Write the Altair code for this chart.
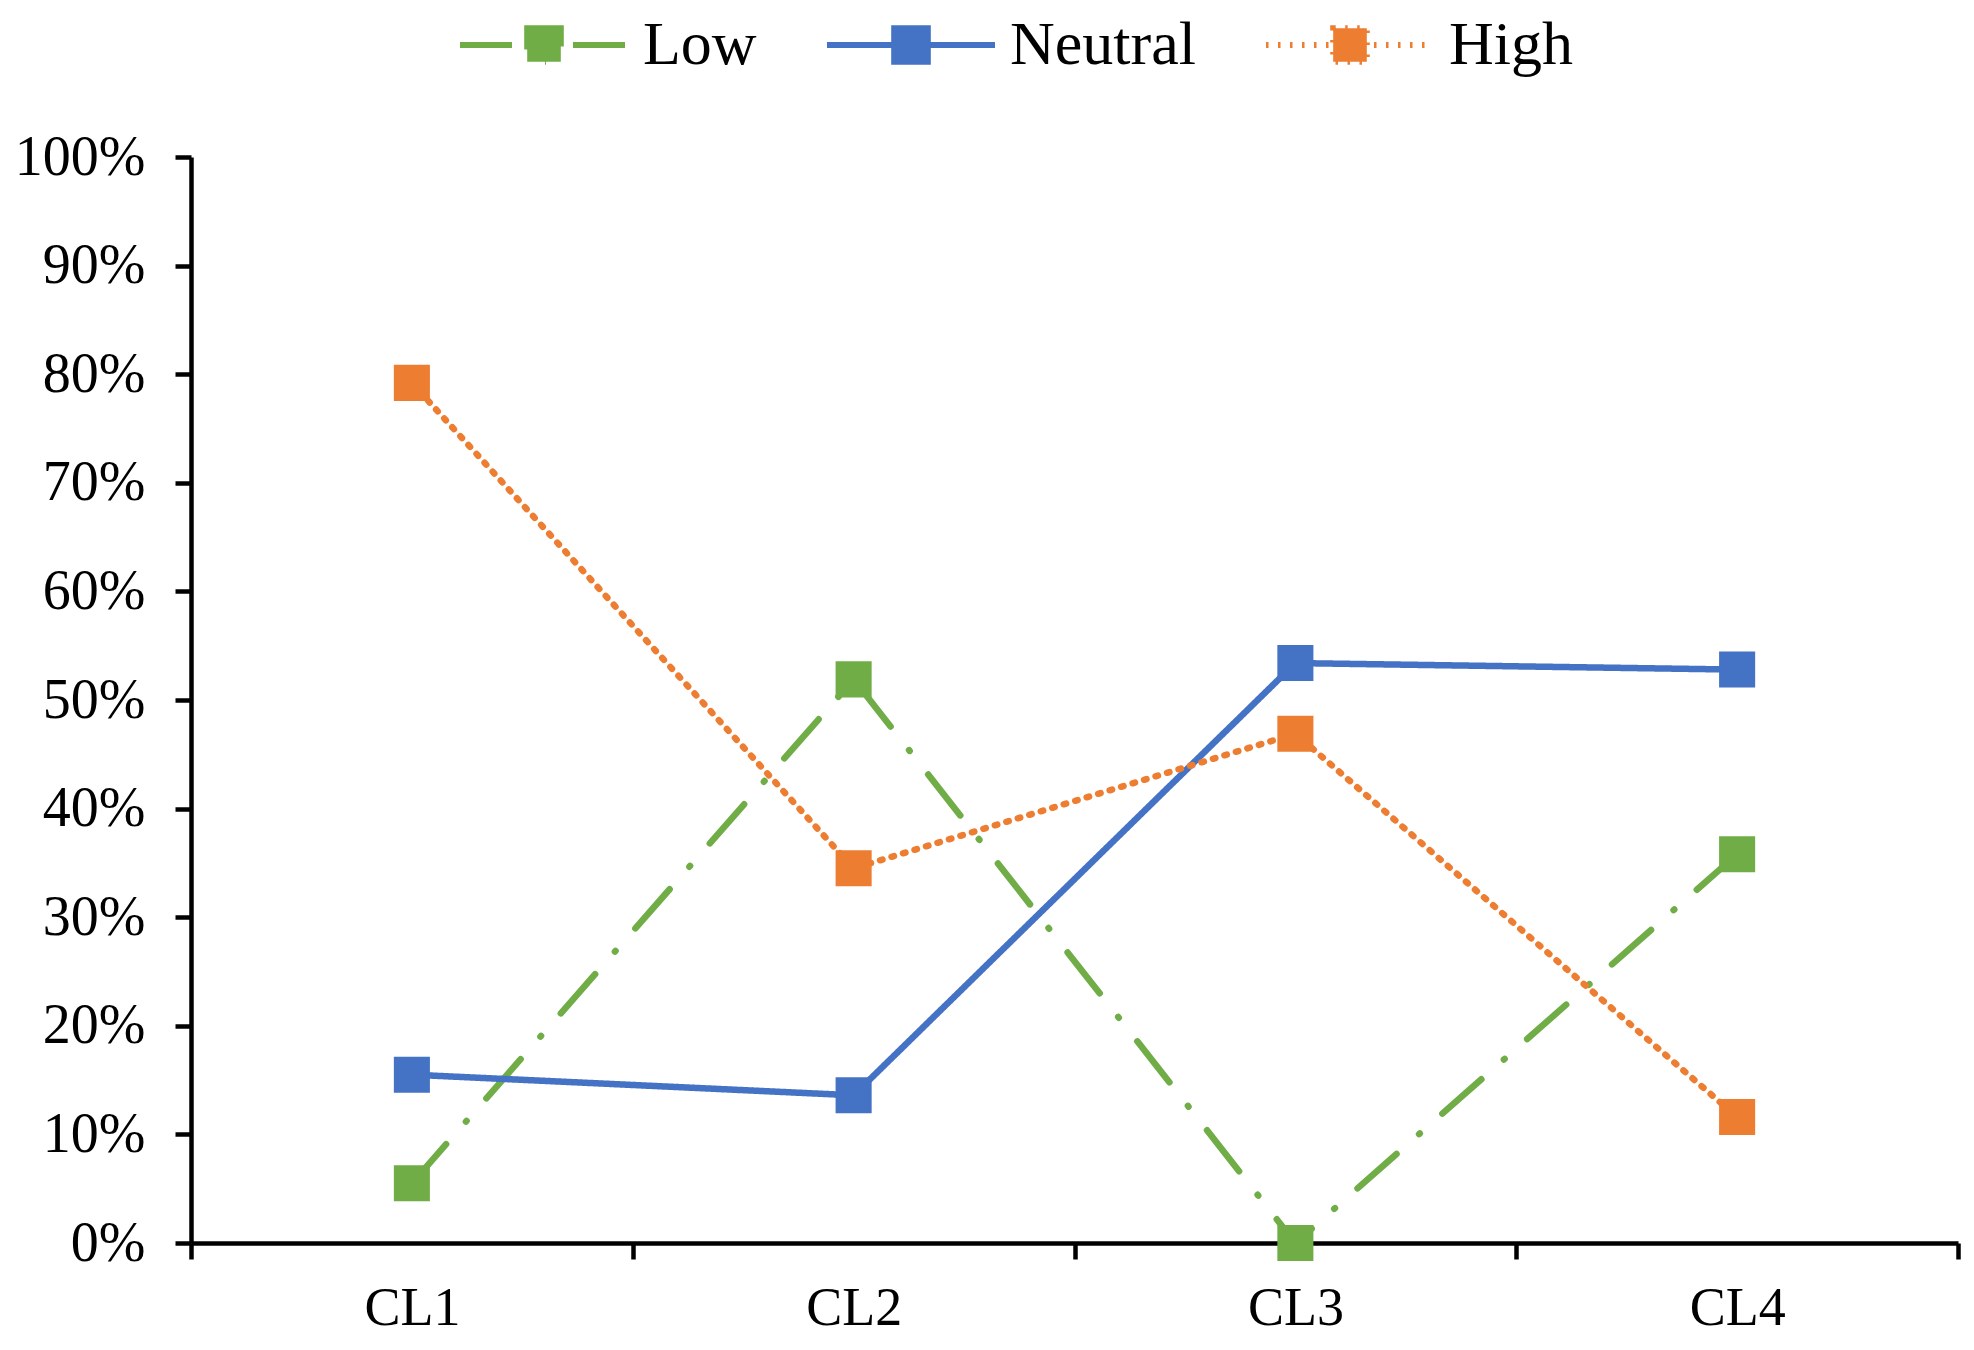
import altair as alt
import pandas as pd

categories = ["CL1", "CL2", "CL3", "CL4"]
series_names = ["Low", "Neutral", "High"]
low = [0.055, 0.519, 0.0, 0.358]
neutral = [0.155, 0.136, 0.534, 0.528]
high = [0.792, 0.345, 0.469, 0.116]
colors = ["#70AD47", "#4472C4", "#ED7D31"]
dashes = [[52, 30, 1, 30], [1, 0], [2.5, 9.5]]
y_ticks = [i / 10 for i in range(11)]

rows = []
for name, vals in zip(series_names, [low, neutral, high]):
    for c, v in zip(categories, vals):
        rows.append({"cat": c, "series": name, "value": v})
df = pd.DataFrame(rows)

FONT = "Liberation Serif"

x_enc = alt.X("cat:N", sort=categories, title=None,
              scale=alt.Scale(type="band", paddingInner=0, paddingOuter=0),
              axis=alt.Axis(tickBand="extent", labelAngle=0, labelFont=FONT,
                            labelFontSize=54, labelColor="black", tickSize=16,
                            tickWidth=4.5, tickColor="black", domainColor="black",
                            domainWidth=4.5, labelPadding=22, grid=False))
y_enc = alt.Y("value:Q", title=None,
              scale=alt.Scale(domain=[0, 1], nice=False),
              axis=alt.Axis(values=y_ticks, format=".0%", labelFont=FONT,
                            labelFontSize=56, labelColor="black", tickSize=16,
                            tickWidth=4.5, tickColor="black", domainColor="black",
                            domainWidth=4.5, labelPadding=30, grid=False))

legend = alt.Legend(
    title=None, orient="none", direction="horizontal",
    legendX=266, legendY=-199,
    labelFont=FONT, labelFontSize=62, labelColor="black", labelOffset=12,
    labelLimit=0, columnPadding=58,
    symbolType="M-1,0H1M-0.2,-0.2H0.2V0.2H-0.2Z",
    symbolSize=28224, symbolStrokeWidth=6,
)

color_enc = alt.Color("series:N", sort=series_names,
                      scale=alt.Scale(domain=series_names, range=colors),
                      legend=legend)
dash_enc = alt.StrokeDash("series:N", sort=series_names,
                          scale=alt.Scale(domain=series_names, range=dashes),
                          legend=legend)
fill_enc = alt.Fill("series:N", sort=series_names,
                    scale=alt.Scale(domain=series_names, range=colors),
                    legend=legend)

base = alt.Chart(df)
layers = []
for name in series_names:
    sub = base.transform_filter(alt.datum.series == name)
    layers.append(sub.mark_line(strokeWidth=6.5, strokeCap="round").encode(
        x=x_enc, y=y_enc, color=color_enc, strokeDash=dash_enc))
    layers.append(sub.mark_square(size=1300, opacity=1, filled=True).encode(
        x=x_enc, y=y_enc, fill=fill_enc))

chart = alt.layer(*layers).properties(
    width=1767, height=1086,
    autosize="none",
    padding={"left": 183, "top": 149, "right": 5, "bottom": 100},
    background="white",
).configure_view(stroke=None)

chart.save("out.html", embed_options={"renderer": "svg", "actions": False})
